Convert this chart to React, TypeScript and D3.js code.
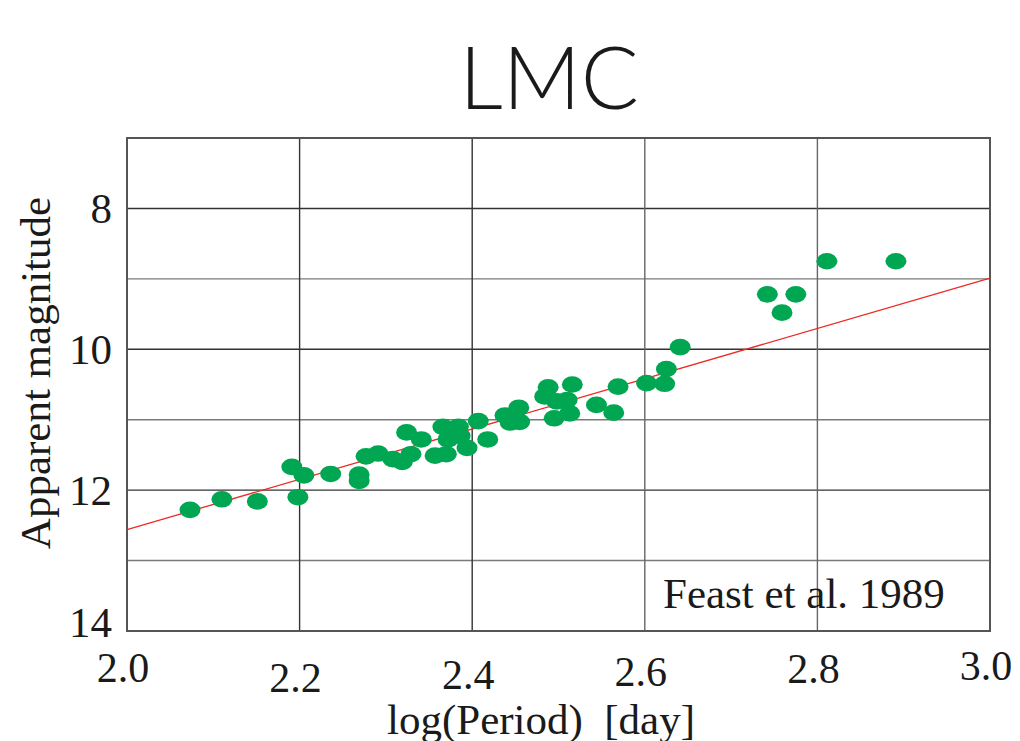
import * as d3 from "d3";

// log(Period) [day] and apparent magnitude of the LMC Cepheids
const logPeriod = [
  2.073, 2.110, 2.151, 2.198, 2.191, 2.205, 2.236, 2.269, 2.269, 2.277,
  2.291, 2.308, 2.319, 2.329, 2.324, 2.341, 2.357, 2.370, 2.366, 2.384,
  2.372, 2.386, 2.394, 2.407, 2.418, 2.438, 2.454, 2.455, 2.444, 2.488,
  2.516, 2.484, 2.498, 2.510, 2.495, 2.513, 2.544, 2.564, 2.569, 2.602,
  2.623, 2.625, 2.641, 2.742, 2.775, 2.759, 2.811, 2.891,
];
const magnitude = [
  12.28, 12.13, 12.16, 12.10, 11.67, 11.79, 11.77, 11.78, 11.87, 11.52,
  11.48, 11.56, 11.60, 11.49, 11.18, 11.28, 11.51, 11.49, 11.10, 11.10,
  11.28, 11.23, 11.40, 11.02, 11.28, 10.94, 10.83, 11.03, 11.04, 10.54,
  10.50, 10.67, 10.74, 10.72, 10.98, 10.91, 10.79, 10.90, 10.53, 10.48,
  10.49, 10.28, 9.97, 9.22, 9.22, 9.48, 8.75, 8.75,
];

// fitted P-L relation (endpoints)
const fitX = [2.0, 3.0];
const fitY = [12.56, 8.99];

const xTicks = [2.0, 2.2, 2.4, 2.6, 2.8, 3.0];
const yTicks = [8, 10, 12, 14];
const yGrid = [8, 9, 10, 11, 12, 13];

// tick label nudges, to follow the scanned figure
const xLabelDy = [51, 61, 58, 55, 52, 49];
const yLabelDy = [15, 15, 15, 6];

const W = 1020;
const H = 741;
const left = 127;
const right = 990;
const top = 138;
const bottom = 631;

const serif = "'Liberation Serif', 'Times New Roman', serif";
const green = "#00a651";

export default function App() {
  const x = d3.scaleLinear().domain([2.0, 3.0]).range([left, right]);
  const y = d3.scaleLinear().domain([7, 14]).range([top, bottom]);

  const pts = logPeriod.map((p, i) => ({ p, m: magnitude[i] }));
  const fit = d3
    .line<number>()
    .x((d) => x(d))
    .y((_, i) => y(fitY[i]));

  return (
    <svg
      width={W}
      height={H}
      style={{ position: "absolute", left: 0, top: 0, background: "#fff" }}
    >
      <rect x={0} y={0} width={W} height={H} fill="#fff" />

      {/* title */}
      <text
        x={549}
        y={109}
        textAnchor="middle"
        fontFamily="Lato, 'Noto Sans', sans-serif"
        fontWeight={300}
        fontSize={86}
        fill="#1a1a1a"
      >
        LMC
      </text>

      {/* grid */}
      {yGrid.map((v) => (
        <line
          key={"h" + v}
          x1={left}
          x2={right}
          y1={y(v)}
          y2={y(v)}
          stroke={v % 2 === 0 ? "#333" : "#7a7a7a"}
          strokeWidth={1.4}
        />
      ))}
      {xTicks.slice(1, -1).map((v, i) => (
        <line
          key={"v" + v}
          x1={x(v)}
          x2={x(v)}
          y1={top}
          y2={bottom}
          stroke={i < 2 ? "#333" : "#666"}
          strokeWidth={1.4}
        />
      ))}
      <rect
        x={left}
        y={top}
        width={right - left}
        height={bottom - top}
        fill="none"
        stroke="#555"
        strokeWidth={2}
      />

      {/* fit line */}
      <path d={fit(fitX) ?? ""} fill="none" stroke="#ee2a24" strokeWidth={1.3} />

      {/* stars */}
      {pts.map((d, i) => (
        <ellipse
          key={i}
          cx={x(d.p)}
          cy={y(d.m)}
          rx={10.5}
          ry={8.3}
          fill={green}
        />
      ))}

      {/* reference */}
      <text x={663} y={608} fontFamily={serif} fontSize={43} fill="#1a1a1a">
        Feast et al. 1989
      </text>

      {/* axes labels */}
      {xTicks.map((v, i) => (
        <text
          key={"xl" + v}
          x={x(v) - 4}
          y={bottom + xLabelDy[i]}
          textAnchor="middle"
          fontFamily={serif}
          fontSize={42}
          fill="#1a1a1a"
        >
          {v.toFixed(1)}
        </text>
      ))}
      {yTicks.map((v, i) => (
        <text
          key={"yl" + v}
          x={112}
          y={y(v) + yLabelDy[i]}
          textAnchor="end"
          fontFamily={serif}
          fontSize={43}
          fill="#1a1a1a"
        >
          {v}
        </text>
      ))}

      <text
        x={541}
        y={734}
        textAnchor="middle"
        fontFamily={serif}
        fontSize={43}
        fill="#1a1a1a"
        style={{ whiteSpace: "pre" }}
      >
        {"log(Period)  [day]"}
      </text>
      <text
        transform={`translate(50, ${373}) rotate(-90)`}
        textAnchor="middle"
        fontFamily={serif}
        fontSize={43}
        fill="#1a1a1a"
      >
        Apparent magnitude
      </text>
    </svg>
  );
}
